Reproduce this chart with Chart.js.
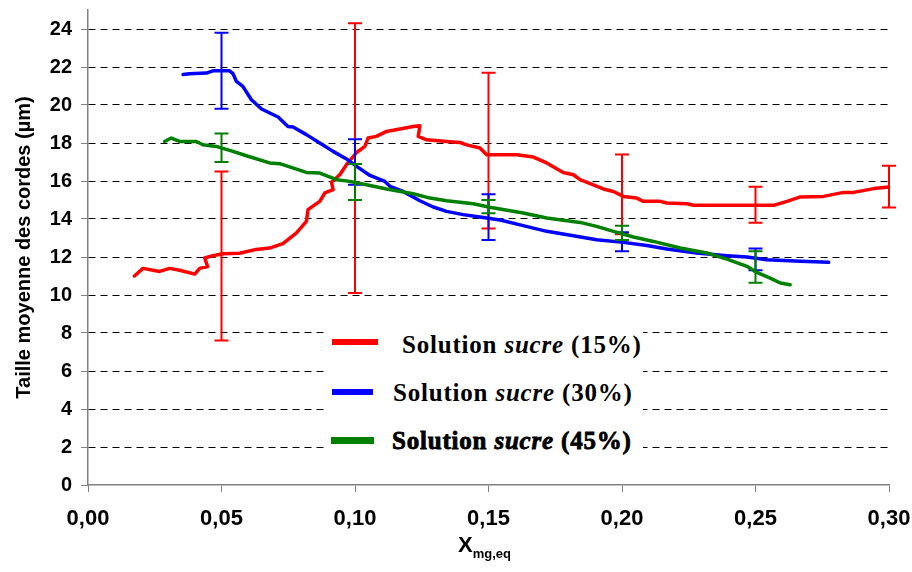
<!DOCTYPE html>
<html>
<head>
<meta charset="utf-8">
<script src="https://cdn.jsdelivr.net/npm/chart.js@4.4.1/dist/chart.umd.min.js"></script>
<style>
  html, body { margin: 0; padding: 0; background: #fff; }
  #wrap { position: relative; width: 912px; height: 572px; }
  #legend { position: absolute; left: 327px; top: 318px; width: 316px; height: 140px; background: #fff; }
  .lg-line { position: absolute; }
  .lg-text { position: absolute; font-family: "Liberation Serif", "DejaVu Serif", serif; font-weight: bold; font-size: 25px; line-height: 28px; letter-spacing: 0.8px; color: #000; white-space: nowrap; }
  #xtitle { position: absolute; left: 458px; top: 532px; font-family: "Liberation Sans", Arial, sans-serif; font-weight: bold; font-size: 22px; color: #000; }
  #xtitle sub { font-size: 13px; vertical-align: -6px; }
</style>
</head>
<body>
<div id="wrap">
  <canvas id="chart" width="912" height="572"></canvas>
  <div id="legend"></div>
  <div id="xtitle">X<sub>mg,eq</sub></div>
</div>
<script>
// Données
const xTicks = [0, 0.05, 0.10, 0.15, 0.20, 0.25, 0.30];
const yTicks = [0, 2, 4, 6, 8, 10, 12, 14, 16, 18, 20, 22, 24];

// Solution sucre (15%)
const x15 = [0.0174,0.0206,0.0268,0.0306,0.0343,0.040,0.0418,0.0448,0.0437,0.0468,0.0505,0.0568,0.063,0.068,0.073,0.078,0.0818,0.0824,0.0868,0.0887,0.0918,0.0912,0.0943,0.0968,0.1006,0.1037,0.1049,0.108,0.1118,0.1168,0.1218,0.1243,0.1237,0.1268,0.1343,0.1393,0.1418,0.1468,0.1493,0.1606,0.1668,0.1718,0.178,0.1818,0.1843,0.1893,0.193,0.1968,0.2005,0.2055,0.208,0.2143,0.2168,0.2243,0.2268,0.2568,0.2618,0.2668,0.2755,0.283,0.2868,0.2943,0.2999];
const y15 = [11.0,11.4,11.24,11.4,11.3,11.1,11.4,11.5,11.95,12.07,12.17,12.2,12.4,12.47,12.7,13.26,13.87,14.49,14.93,15.37,15.54,15.93,16.33,16.86,17.5,17.82,18.26,18.35,18.61,18.74,18.87,18.91,18.35,18.17,18.08,18.03,17.9,17.74,17.38,17.38,17.26,16.95,16.45,16.33,16.07,15.8,15.58,15.45,15.19,15.1,14.93,14.93,14.84,14.8,14.72,14.72,14.93,15.16,15.19,15.4,15.4,15.6,15.68];
const errX15 = [0.05, 0.10, 0.15, 0.20, 0.25, 0.30];
const errLow15 = [7.6, 10.1, 13.5, 13.2, 13.8, 14.6];
const errHigh15 = [16.5, 24.3, 21.7, 17.4, 15.7, 16.8];

// Solution sucre (30%)
const x30 = [0.0356,0.038,0.0443,0.0468,0.053,0.0543,0.0556,0.058,0.0612,0.065,0.0712,0.0749,0.0768,0.0818,0.0868,0.0918,0.0968,0.1006,0.1056,0.1112,0.1131,0.118,0.1243,0.1293,0.1343,0.1405,0.1468,0.1543,0.163,0.1718,0.1818,0.1905,0.2005,0.2093,0.2168,0.228,0.2393,0.2468,0.2543,0.2668,0.2774];
const y30 = [21.6,21.65,21.68,21.8,21.8,21.65,21.24,20.98,20.28,19.79,19.37,18.87,18.84,18.44,18.0,17.56,17.16,16.77,16.29,15.98,15.72,15.45,14.96,14.63,14.4,14.23,14.1,13.95,13.65,13.35,13.12,12.91,12.77,12.6,12.42,12.21,12.07,12.0,11.86,11.77,11.72];
const errX30 = [0.05, 0.10, 0.15, 0.20, 0.25];
const errLow30 = [19.8, 15.8, 12.9, 12.3, 11.3];
const errHigh30 = [23.8, 18.2, 15.3, 13.3, 12.45];

// Solution sucre (45%)
const x45 = [0.0287,0.0312,0.0343,0.0406,0.043,0.048,0.0543,0.0593,0.068,0.0718,0.0818,0.0868,0.0931,0.098,0.1043,0.1118,0.1218,0.1281,0.1343,0.1443,0.1505,0.1543,0.163,0.1718,0.1843,0.1905,0.1968,0.2043,0.2118,0.2218,0.2318,0.2393,0.2468,0.2505,0.2555,0.2593,0.263];
const y45 = [18.08,18.26,18.08,18.08,17.91,17.82,17.56,17.33,16.95,16.91,16.45,16.42,16.07,15.98,15.8,15.58,15.33,15.1,14.96,14.8,14.62,14.53,14.32,14.05,13.82,13.61,13.35,13.05,12.82,12.47,12.21,11.89,11.51,11.19,10.89,10.63,10.54];
const errX45 = [0.05, 0.10, 0.15, 0.20, 0.25];
const errLow45 = [17.0, 15.0, 14.3, 12.9, 10.65];
const errHigh45 = [18.5, 16.9, 15.0, 13.65, 12.3];

const labels = ['Solution sucre (15%)', 'Solution sucre (30%)', 'Solution sucre (45%)'];
const colors = ['#ff0000', '#0000ff', '#008000'];

function pts(xs, ys) {
    return xs.map((x, i) => ({ x: x, y: ys[i] }));
}

// barres d'erreur dessinées avec les échelles du graphique
const errorBars = {
    id: 'errorBars',
    afterDatasetDraw(chart, args) {
        const ds = chart.data.datasets[args.index];
        if (!ds.errX) return;
        const ctx = chart.ctx;
        const xs = chart.scales.x, ys = chart.scales.y;
        ctx.save();
        ctx.strokeStyle = ds.borderColor;
        ctx.lineWidth = 2;
        ds.errX.forEach((ex, i) => {
            const px = xs.getPixelForValue(ex);
            const top = ys.getPixelForValue(ds.errHigh[i]);
            const bot = ys.getPixelForValue(ds.errLow[i]);
            ctx.beginPath();
            ctx.moveTo(px, top); ctx.lineTo(px, bot);
            ctx.moveTo(px - 7, top); ctx.lineTo(px + 7, top);
            ctx.moveTo(px - 7, bot); ctx.lineTo(px + 7, bot);
            ctx.stroke();
        });
        ctx.restore();
    }
};

const font = "'Liberation Sans', Arial, sans-serif";

new Chart(document.getElementById('chart'), {
    type: 'scatter',
    data: {
        datasets: [
            { label: labels[0], data: pts(x15, y15), borderColor: colors[0], errX: errX15, errLow: errLow15, errHigh: errHigh15, order: 3 },
            { label: labels[1], data: pts(x30, y30), borderColor: colors[1], errX: errX30, errLow: errLow30, errHigh: errHigh30, order: 2 },
            { label: labels[2], data: pts(x45, y45), borderColor: colors[2], errX: errX45, errLow: errLow45, errHigh: errHigh45, order: 1 }
        ].map(d => Object.assign(d, {
            showLine: true,
            pointRadius: 0,
            borderWidth: 3.5,
            tension: 0,
            fill: false,
            borderJoinStyle: 'round',
            borderCapStyle: 'round'
        }))
    },
    options: {
        responsive: false,
        animation: false,
        layout: { padding: { top: 10, right: 23, left: 0, bottom: 0 } },
        plugins: {
            legend: { display: false },
            tooltip: { enabled: false }
        },
        scales: {
            x: {
                type: 'linear',
                min: 0,
                max: 0.30,
                afterFit: s => { s.height = 87; s.paddingLeft = 0; s.paddingRight = 0; },
                afterBuildTicks: s => { s.ticks = xTicks.map(v => ({ value: v })); },
                ticks: {
                    color: '#000',
                    font: { family: font, size: 22, weight: 'bold' },
                    padding: 14,
                    maxRotation: 0,
                    callback: v => v.toFixed(2).replace('.', ',')
                },
                grid: {
                    drawOnChartArea: false,
                    drawTicks: true,
                    tickLength: 7,
                    tickColor: '#808080',
                    tickWidth: 1
                },
                border: { display: true, color: '#808080', width: 1.5 }
            },
            y: {
                type: 'linear',
                min: 0,
                max: 25,
                afterFit: s => { s.width = 88; s.paddingTop = 0; s.paddingBottom = 0; },
                afterBuildTicks: s => { s.ticks = yTicks.map(v => ({ value: v })); },
                ticks: {
                    color: '#000',
                    font: { family: font, size: 20, weight: 'bold' },
                    padding: 9
                },
                grid: {
                    color: c => (c.tick && c.tick.value === 0) ? 'rgba(0,0,0,0)' : '#000',
                    lineWidth: 1,
                    drawTicks: true,
                    tickLength: 7,
                    tickColor: '#808080',
                    tickBorderDash: []
                },
                border: { display: true, color: '#808080', width: 1.5, dash: [7, 5] },
                title: {
                    display: true,
                    text: 'Taille moyenne des cordes (µm)',
                    color: '#000',
                    font: { family: font, size: 20, weight: 'bold' },
                    padding: { top: 12, bottom: 0 }
                }
            }
        }
    },
    plugins: [errorBars]
});

// légende dans la zone de tracé
const legend = document.getElementById('legend');
const items = [
    { line: [332, 339, 46, 6], text: [402, 331] },
    { line: [332, 389, 41, 6], text: [393, 379] },
    { line: [331, 437, 43, 7], text: [392, 427] }
];
items.forEach((it, i) => {
    const ln = document.createElement('div');
    ln.className = 'lg-line';
    ln.style.left = (it.line[0] - 327) + 'px';
    ln.style.top = (it.line[1] - 318) + 'px';
    ln.style.width = it.line[2] + 'px';
    ln.style.height = it.line[3] + 'px';
    ln.style.background = colors[i];
    legend.appendChild(ln);
    const tx = document.createElement('div');
    tx.className = 'lg-text';
    tx.style.left = (it.text[0] - 327) + 'px';
    tx.style.top = (it.text[1] - 318) + 'px';
    const parts = labels[i].split(' ');
    tx.innerHTML = parts[0] + ' <i>' + parts[1] + '</i> ' + parts[2];
    if (i === 2) tx.style.webkitTextStroke = '0.8px #000';
    legend.appendChild(tx);
});
</script>
</body>
</html>
